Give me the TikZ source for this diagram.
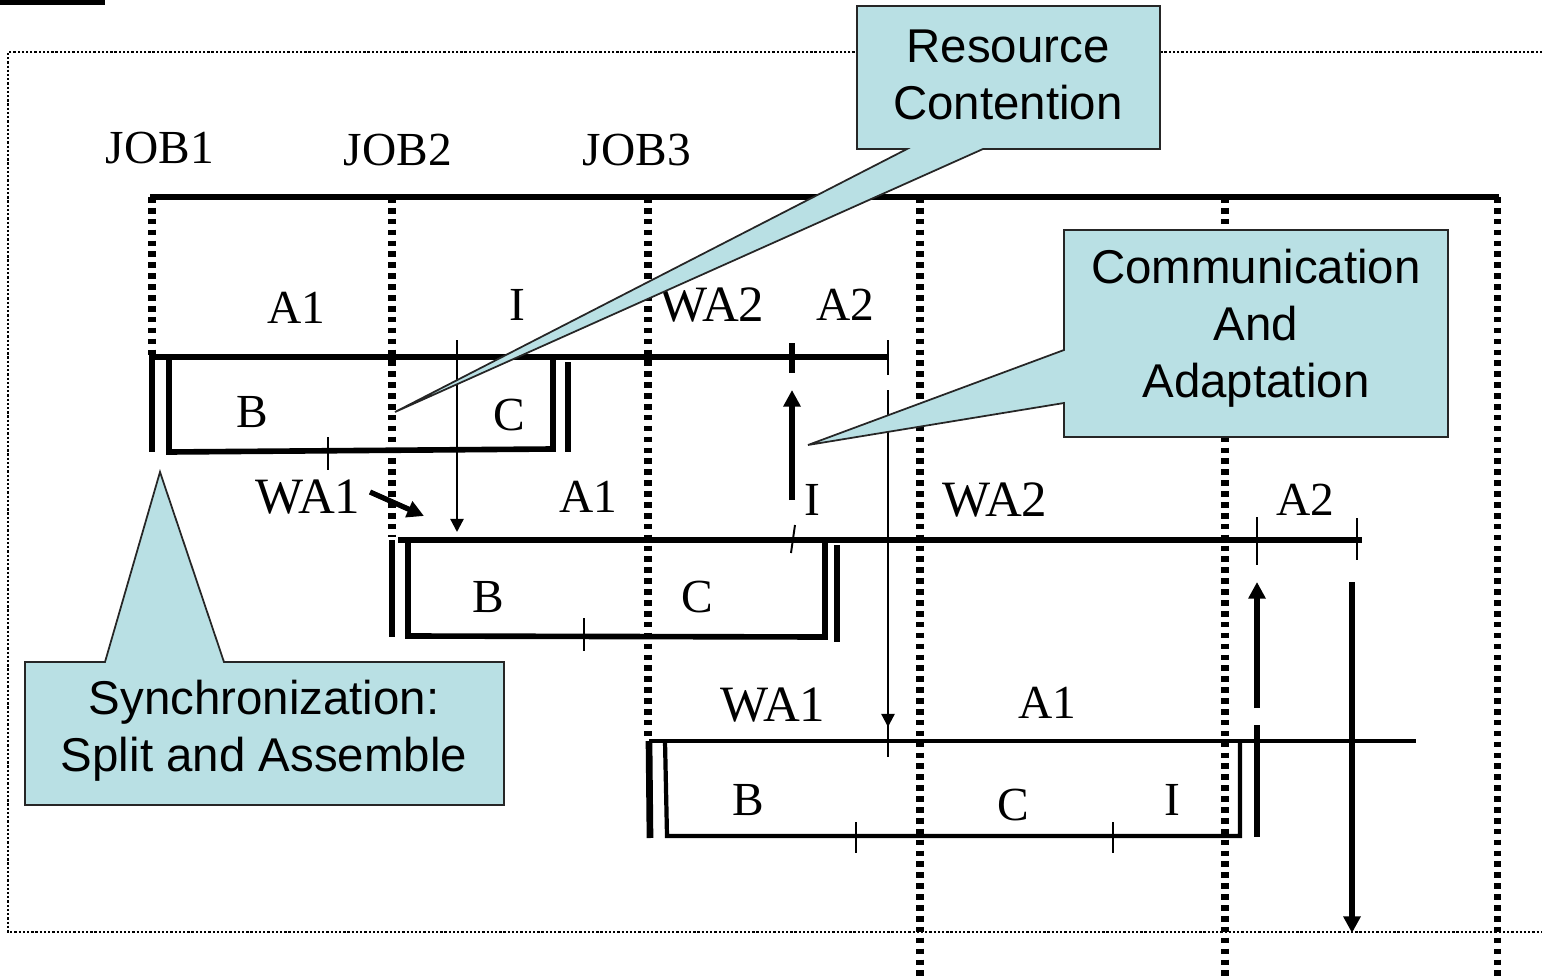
\documentclass[tikz,border=0pt]{standalone}
\usepackage{fontspec}
\setmainfont{Liberation Serif}
\newfontfamily\calloutfont{Liberation Sans}
\usetikzlibrary{arrows.meta}
\definecolor{calloutBlue}{RGB}{185,224,228}

\begin{document}
\begin{tikzpicture}[x = 0.02cm, y = -0.02cm]
	\tikzstyle{frameStyle} = [line width = 1.4pt, dash pattern = on 1.3pt off 1.1pt]
	\tikzstyle{sepStyle} = [line width = 4pt, dash pattern = on 3.2pt off 3pt]
	\tikzstyle{barStyle} = [line width = 3.2pt]
	\tikzstyle{lowBarStyle} = [line width = 2.4pt]
	\tikzstyle{wallStyle} = [line width = 3.8pt]
	\tikzstyle{tickStyle} = [line width = 1.1pt]
	\tikzstyle{labelStyle} = [font = \fontsize{27}{32}\selectfont, inner sep = 0pt]
	\tikzstyle{wideLabel} = [labelStyle, font = \fontsize{29}{32}\selectfont]
	\tikzstyle{calloutStyle} = [fill = calloutBlue, draw = black!85, line width = 1pt]
	\tikzstyle{calloutText} = [font = \calloutfont\fontsize{27}{32.4}\selectfont, align = center, inner sep = 0pt]
	\tikzstyle{thinArrow} = [line width = 1.3pt, -{Triangle[length = 7.5pt, width = 7.5pt]}]
	\tikzstyle{thickArrow} = [line width = 3.4pt, -{Triangle[length = 9.5pt, width = 9.5pt]}]
	\useasboundingbox (0,0) rectangle (1542,980);
	% title bar and frame
	\fill (0,0) rectangle (105,5);
	\draw[frameStyle] (1542,52) -- (8,52) -- (8,932) -- (1542,932);
	% job columns
	\node[labelStyle] (job1) at (160,148) {JOB1};
	\node[labelStyle] (job2) at (398,150) {JOB2};
	\node[labelStyle] (job3) at (637,150) {JOB3};
	\foreach \x/\y in {152/355, 392/537, 648/740, 920/980, 1225/980, 1497/980}
		\draw[sepStyle] (\x,197) -- (\x,\y);
	\draw[line width = 3.8pt] (150,197) -- (1499,197);
	% row 1
	\draw[barStyle] (150,357) -- (888,357);
	\draw[barStyle] (169,357) -- (169,452) -- (553,449) -- (553,357);
	\draw[wallStyle] (152,355) -- (152,452);
	\draw[wallStyle] (568,362) -- (568,452);
	\draw[tickStyle] (328,437) -- (328,470);
	\draw[tickStyle] (888,340) -- (888,375);
	\draw[wallStyle] (792,343) -- (792,373);
	\node[labelStyle] (r1A1) at (296,308) {A1};
	\node[labelStyle] (r1I) at (517,305) {I};
	\node[wideLabel] (r1WA2) at (712,305) {WA2};
	\node[labelStyle] (r1A2) at (845,305) {A2};
	\node[labelStyle] (r1B) at (252,412) {B};
	\node[labelStyle] (r1C) at (509,415) {C};
	% row 2
	\draw[barStyle] (398,540) -- (1362,540);
	\draw[barStyle] (408,537) -- (408,636) -- (825,637) -- (825,540);
	\draw[wallStyle] (392,540) -- (392,637);
	\draw[wallStyle] (837,545) -- (837,642);
	\draw[tickStyle] (584,618) -- (584,651);
	\draw[tickStyle] (795,525) -- (791,553);
	\draw[tickStyle] (1257,517) -- (1257,565);
	\draw[tickStyle] (1357,518) -- (1357,560);
	\node[wideLabel] (r2WA1) at (308,497) {WA1};
	\node[labelStyle] (r2A1) at (588,497) {A1};
	\node[labelStyle] (r2I) at (812,500) {I};
	\node[wideLabel] (r2WA2) at (995,500) {WA2};
	\node[labelStyle] (r2A2) at (1305,500) {A2};
	\node[labelStyle] (r2B) at (488,597) {B};
	\node[labelStyle] (r2C) at (697,597) {C};
	% row 3
	\draw[lowBarStyle] (649,741) -- (1416,741);
	\draw[lowBarStyle] (665,741) -- (667,836) -- (1240,836) -- (1240,741);
	\draw[wallStyle] (649,741) -- (650,838);
	\draw[wallStyle] (1257,725) -- (1257,837);
	\draw[tickStyle] (856,822) -- (856,853);
	\draw[tickStyle] (1113,822) -- (1113,853);
	\draw[tickStyle] (888,725) -- (888,757);
	\node[wideLabel] (r3WA1) at (773,705) {WA1};
	\node[labelStyle] (r3A1) at (1047,703) {A1};
	\node[labelStyle] (r3B) at (748,800) {B};
	\node[labelStyle] (r3C) at (1013,805) {C};
	\node[labelStyle] (r3I) at (1172,800) {I};
	% messages
	\coordinate (m1s) at (457,340);
	\coordinate (m1e) at (457,532);
	\coordinate (m2s) at (888,390);
	\coordinate (m2e) at (888,727);
	\coordinate (m3s) at (792,500);
	\coordinate (m3e) at (792,390);
	\coordinate (m4s) at (1257,708);
	\coordinate (m4e) at (1257,582);
	\coordinate (m5s) at (1352,582);
	\coordinate (m5e) at (1352,933);
	\coordinate (m6s) at (370,492);
	\coordinate (m6e) at (424,516);
	\draw[thinArrow] (m1s) -- (m1e);
	\draw[thinArrow] (m2s) -- (m2e);
	\draw[thickArrow] (m3s) -- (m3e);
	\draw[thickArrow] (m4s) -- (m4e);
	\draw[thickArrow] (m5s) -- (m5e);
	\draw[thickArrow, line width = 3pt] (m6s) -- (m6e);
	% callouts
	\draw[calloutStyle] (857,6) -- (1160,6) -- (1160,149) -- (983,149) -- (395,412) -- (907,149) -- (857,149) -- cycle;
	\node[calloutText] (rc) at (1008,75) {Resource\\Contention};
	\draw[calloutStyle] (1064,230) -- (1448,230) -- (1448,437) -- (1064,437) -- (1064,403) -- (808,445) -- (1064,350) -- cycle;
	\node[calloutText] (ca) at (1256,328) {Communication\\And\\Adaptation};
	\draw[calloutStyle] (25,662) -- (105,662) -- (160,472) -- (224,662) -- (504,662) -- (504,805) -- (25,805) -- cycle;
	\node[calloutText] (sa) at (264,731) {Synchronization:\\Split and Assemble};
\end{tikzpicture}
\end{document}
